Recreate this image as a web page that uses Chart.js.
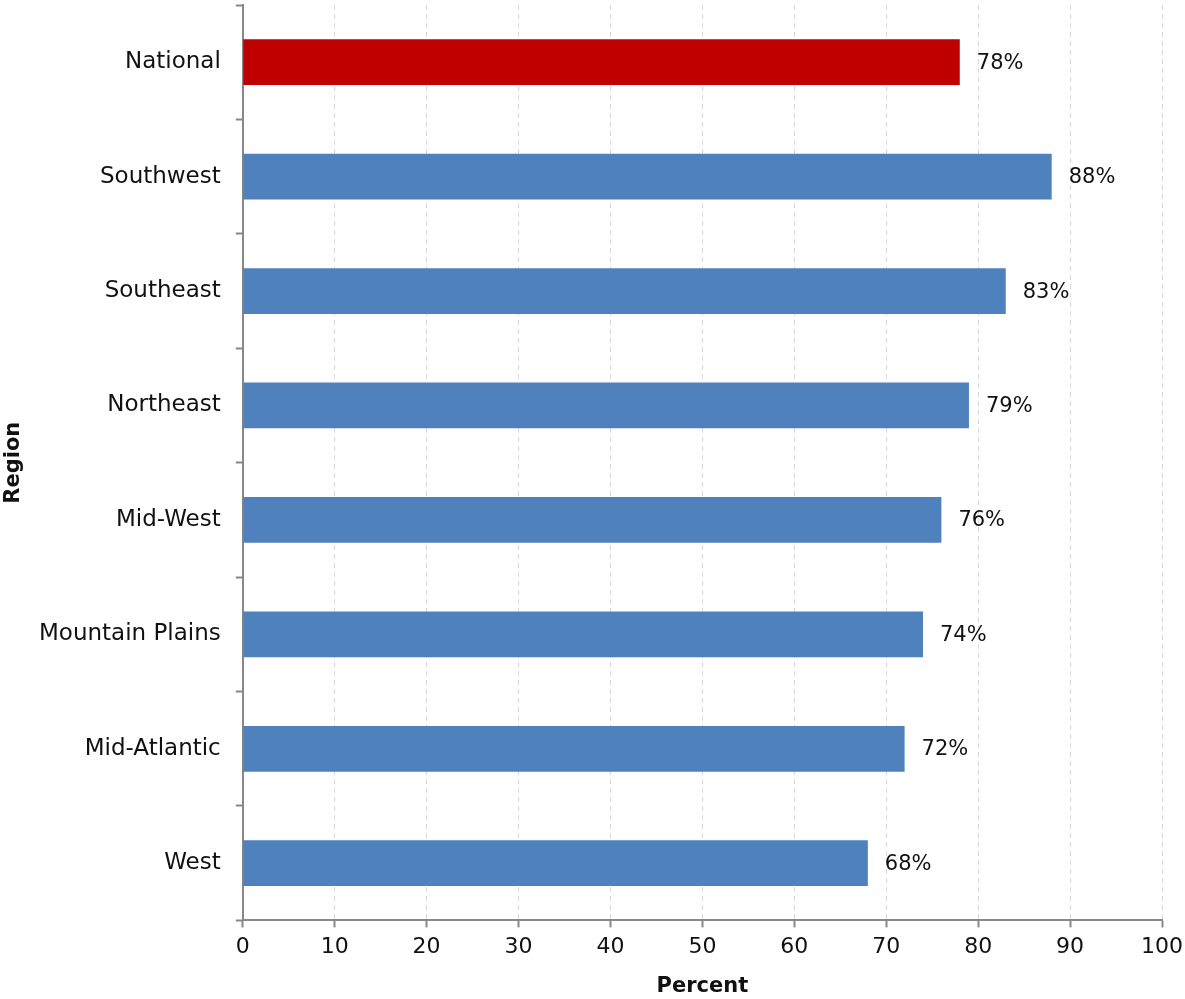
<!DOCTYPE html>
<html>
<head>
<meta charset="utf-8">
<script src="https://cdn.jsdelivr.net/npm/chart.js@4.4.1/dist/chart.umd.min.js"></script>
<style>
  html, body { margin: 0; padding: 0; background: #fff; }
  #wrap { width: 1185px; height: 999px; }
</style>
</head>
<body>
<div id="wrap"><canvas id="regionChart"></canvas></div>
<script>
// regions, top to bottom
const regions = ['National', 'Southwest', 'Southeast', 'Northeast', 'Mid-West', 'Mountain Plains', 'Mid-Atlantic', 'West'];
const percents = [78, 88, 83, 79, 76, 74, 72, 68];
const barColors = ['#c00000', '#4f81bd', '#4f81bd', '#4f81bd', '#4f81bd', '#4f81bd', '#4f81bd', '#4f81bd'];

const FONT = 'DejaVu Sans';

// draws the "78%" labels after each bar
const valueLabels = {
    id: 'valueLabels',
    afterDatasetsDraw(chart) {
        const ctx = chart.ctx;
        const meta = chart.getDatasetMeta(0);
        ctx.save();
        ctx.font = '21px "' + FONT + '"';
        ctx.fillStyle = '#111';
        ctx.textAlign = 'left';
        ctx.textBaseline = 'middle';
        meta.data.forEach((bar, i) => {
            ctx.fillText(percents[i] + '%', bar.x + 17, bar.y + 1);
        });
        ctx.restore();
    }
};

new Chart(document.getElementById('regionChart'), {
    type: 'bar',
    data: {
        labels: regions,
        datasets: [{
            data: percents,
            backgroundColor: barColors,
            borderWidth: 0,
            categoryPercentage: 1,
            barPercentage: 0.4
        }]
    },
    options: {
        indexAxis: 'y',
        responsive: true,
        maintainAspectRatio: false,
        animation: false,
        layout: { padding: { top: 5, right: 23, left: 3, bottom: 0 } },
        plugins: {
            legend: { display: false },
            tooltip: { enabled: false }
        },
        scales: {
            x: {
                min: 0,
                max: 100,
                afterFit(scale) { scale.paddingRight = 0; },
                ticks: {
                    stepSize: 10,
                    color: '#111',
                    font: { family: FONT, size: 22 },
                    padding: 7
                },
                grid: {
                    color: '#d9d9d9',
                    tickColor: '#888',
                    tickLength: 7,
                    tickWidth: 2
                },
                border: { color: '#888', width: 2, dash: [5, 4] },
                title: {
                    display: true,
                    text: 'Percent',
                    color: '#111',
                    font: { family: FONT, size: 21, weight: 'bold' },
                    padding: { top: 6, bottom: 0 }
                }
            },
            y: {
                afterFit(scale) { scale.paddingTop = 0; scale.paddingBottom = 0; },
                ticks: {
                    color: '#111',
                    font: { family: FONT, size: 23 },
                    padding: 15
                },
                grid: {
                    offset: true,
                    drawOnChartArea: false,
                    tickColor: '#888',
                    tickLength: 7,
                    tickWidth: 2
                },
                border: { color: '#888', width: 2 },
                title: {
                    display: true,
                    text: 'Region',
                    color: '#111',
                    font: { family: FONT, size: 21, weight: 'bold', lineHeight: 1 },
                    padding: { top: 0, bottom: 0 }
                }
            }
        }
    },
    plugins: [valueLabels]
});
</script>
</body>
</html>
